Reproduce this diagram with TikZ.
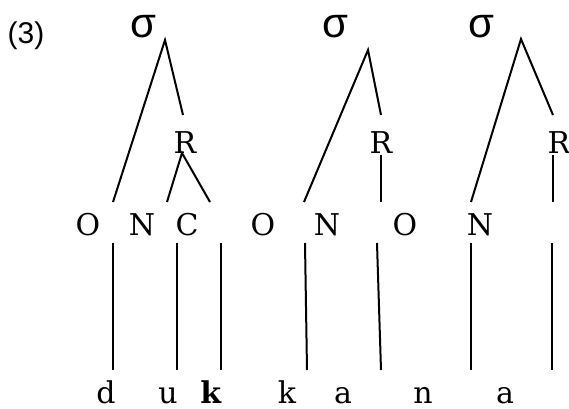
\documentclass[tikz,border=0pt]{standalone}
\usepackage{fontspec}
\setmainfont{DejaVu Serif}
\newfontfamily\numfont{Liberation Sans}

\begin{document}
\begin{tikzpicture}[x=0.5pt, y=-0.5pt,
    syl/.style={font=\numfont\fontsize{21}{24}\selectfont, inner sep=0pt, anchor=base},
    cat/.style={font=\fontsize{15}{18}\selectfont, inner sep=0pt, anchor=base},
    seg/.style={font=\fontsize{15}{18}\selectfont, inner sep=0pt, anchor=base},
    branch/.style={line width=1pt}
]
\useasboundingbox (0,0) rectangle (569,408);

% Example number
\node[font=\numfont\fontsize{15}{18}\selectfont, inner sep=0pt, anchor=base] (num) at (26,43) {(3)};

% Syllable nodes
\node[syl] (s1) at (143,37) {σ};
\node[syl] (s2) at (335,37) {σ};
\node[syl] (s3) at (481,37) {σ};

% Rhymes
\node[cat] (r1) at (185,153) {R};
\node[cat] (r2) at (381,153) {R};
\node[cat] (r3) at (559,153) {R};

% Onsets, nuclei, codas
\node[cat] (o1) at (88,235)  {O};
\node[cat] (n1) at (142,235) {N};
\node[cat] (c1) at (187,235) {C};
\node[cat] (o2) at (263,235) {O};
\node[cat] (n2) at (327,235) {N};
\node[cat] (o3) at (405,235) {O};
\node[cat] (n3) at (480,235) {N};

% Segments
\node[seg] (d)  at (106,403) {d};
\node[seg] (u)  at (168,403) {u};
\node[seg] (k1) at (211,403) {\textbf{k}};
\node[seg] (k2) at (287,403) {k};
\node[seg] (a1) at (343,403) {a};
\node[seg] (nn) at (423,403) {n};
\node[seg] (a2) at (505,403) {a};

% Branch end points
\coordinate (s1top) at (165,40);
\coordinate (s1l)   at (113,202);
\coordinate (s1r)   at (183,115);
\coordinate (r1top) at (182,153);
\coordinate (r1l)   at (167,202);
\coordinate (r1r)   at (210,202);

\coordinate (s2top) at (368,50);
\coordinate (s2l)   at (304,202);
\coordinate (s2r)   at (381,115);
\coordinate (r2top) at (381,155);
\coordinate (r2bot) at (381,202);

\coordinate (s3top) at (521,39);
\coordinate (s3l)   at (471,202);
\coordinate (s3r)   at (553,115);
\coordinate (r3top) at (553,155);
\coordinate (r3bot) at (553,202);

% Syllable structure
\draw[branch] (s1l) -- (s1top) -- (s1r);
\draw[branch] (r1l) -- (r1top) -- (r1r);
\draw[branch] (s2l) -- (s2top) -- (s2r);
\draw[branch] (r2top) -- (r2bot);
\draw[branch] (s3l) -- (s3top) -- (s3r);
\draw[branch] (r3top) -- (r3bot);

% Association lines to the segments
\foreach \i/\xt/\xb in {1/113/113, 2/177/177, 3/221/221, 4/305/307,
                        5/377/381, 6/471/471, 7/552/552} {
    \coordinate (t\i) at (\xt,243);
    \coordinate (b\i) at (\xb,370);
    \draw[branch] (t\i) -- (b\i);
}

\end{tikzpicture}
\end{document}
